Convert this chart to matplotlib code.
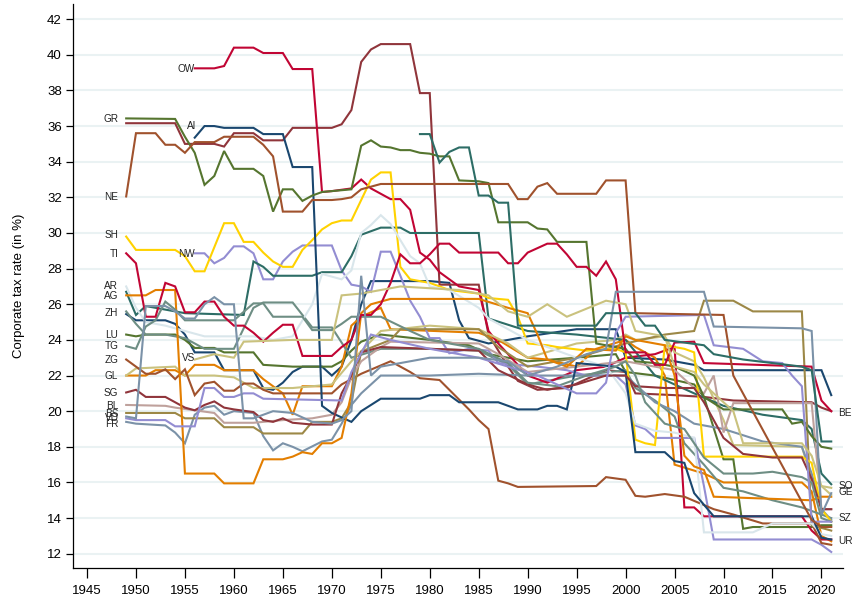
import matplotlib
matplotlib.use("Agg")
import matplotlib.pyplot as plt

plt.rcParams['font.family'] = ['Liberation Sans', 'DejaVu Sans']

# ---------------- data: (year, corporate tax rate in %) ----------------
ZH = [(1949,25.45),(1950,25.1),(1953,25.1),(1954,24.9),(1955,24.3),(1956,23.3),(1958,23.3),(1959,22.3),(1962,22.3),(1963,21.3),(1964,21.2),(1965,21.6),(1966,22.2),(1967,22.5),(1969,22.5),(1970,22.0),(1971,22.5),(1972,24.0),(1973,26.0),(1974,27.3),(1980,27.3),(1982,27.2),(1983,25.1),(1984,24.1),(1986,23.8),(1990,24.2),(1995,24.6),(1999,24.6),(2000,23.0),(2004,22.9),(2007,22.6),(2008,22.3),(2020,22.3),(2021,20.9)]
BE = [(1949,36.16),(1954,36.16),(1955,35.0),(1958,35.0),(1959,34.85),(1960,35.6),(1962,35.6),(1963,35.2),(1965,35.2),(1966,35.9),(1970,35.9),(1971,36.1),(1972,36.9),(1973,39.6),(1974,40.3),(1975,40.6),(1978,40.6),(1979,37.85),(1980,37.85),(1981,27.1),(1985,27.1),(1986,24.3),(1988,22.5),(1989,21.7),(1991,21.2),(1994,21.3),(1996,21.8),(1998,22.3),(2000,22.2),(2001,21.0),(2005,20.9),(2008,20.8),(2011,20.6),(2019,20.5),(2020,20.2),(2021,20.0)]
LU = [(1949,24.3),(1950,24.2),(1951,24.3),(1954,24.3),(1955,24.0),(1956,23.55),(1958,23.55),(1959,23.3),(1962,23.3),(1963,22.6),(1966,22.5),(1970,22.5),(1971,22.8),(1972,23.4),(1973,23.9),(1975,24.3),(1980,24.0),(1984,23.7),(1986,23.2),(1990,22.8),(1995,23.0),(1999,23.2),(2000,22.2),(2003,22.0),(2007,21.5),(2008,20.8),(2010,17.3),(2011,17.3),(2012,13.4),(2013,13.5),(2019,13.5),(2020,13.6),(2021,13.6)]
UR = [(1949,22.0),(1951,22.0),(1952,22.3),(1954,22.3),(1955,22.0),(1956,22.6),(1958,22.6),(1959,22.3),(1962,22.3),(1963,21.8),(1965,21.0),(1966,19.8),(1967,21.4),(1970,21.4),(1971,22.5),(1972,24.8),(1973,25.3),(1975,25.8),(1976,24.6),(1985,24.4),(1987,24.0),(1990,23.0),(1992,22.9),(1995,22.5),(1997,23.5),(2000,24.0),(2001,23.6),(2003,23.0),(2004,22.0),(2005,17.0),(2008,16.5),(2010,16.0),(2018,16.0),(2019,15.5),(2020,13.0),(2021,12.7)]
SZ = [(1949,25.6),(1950,24.9),(1951,24.3),(1953,24.3),(1955,24.1),(1957,23.5),(1960,23.5),(1962,25.8),(1963,26.1),(1966,26.1),(1968,24.7),(1970,24.7),(1972,23.0),(1975,23.5),(1980,23.5),(1985,23.4),(1988,22.6),(1990,21.5),(1995,22.0),(2000,22.3),(2001,21.3),(2003,20.6),(2005,19.7),(2006,18.2),(2008,17.0),(2010,15.7),(2012,15.5),(2015,15.0),(2018,14.6),(2020,14.2),(2021,14.0)]
OW = [(1956,39.24),(1958,39.24),(1959,39.37),(1960,40.4),(1962,40.4),(1963,40.1),(1965,40.1),(1966,39.2),(1968,39.2),(1969,32.3),(1970,32.35),(1972,32.5),(1973,33.0),(1974,32.5),(1976,31.9),(1977,31.9),(1978,31.3),(1979,28.9),(1980,28.5),(1981,27.8),(1983,27.0),(1985,26.8),(1986,24.5),(1987,23.8),(1990,22.0),(1992,21.6),(1995,22.3),(1998,22.5),(2000,23.0),(2003,23.2),(2005,23.6),(2006,14.6),(2007,14.6),(2008,14.1),(2018,14.1),(2019,13.3),(2020,12.8),(2021,12.8)]
NW = [(1956,28.86),(1957,28.86),(1958,28.3),(1959,28.6),(1960,29.25),(1961,29.25),(1962,28.86),(1963,27.4),(1964,27.4),(1965,28.4),(1966,28.95),(1967,29.3),(1970,29.3),(1971,27.9),(1972,27.1),(1973,27.0),(1974,26.7),(1975,28.95),(1976,28.95),(1977,27.6),(1978,26.2),(1979,25.3),(1980,24.1),(1981,24.1),(1982,23.25),(1984,23.5),(1986,23.4),(1987,22.7),(1991,22.5),(1994,22.3),(1996,22.0),(1999,22.0),(2000,21.5),(2001,19.2),(2002,19.0),(2003,18.5),(2007,18.5),(2008,15.8),(2009,12.8),(2019,12.8),(2020,12.5),(2021,12.1)]
GL = [(1949,22.0),(1950,22.4),(1954,22.5),(1955,22.0),(1958,22.0),(1960,21.9),(1962,21.3),(1966,21.3),(1970,21.5),(1972,22.8),(1975,24.5),(1980,24.8),(1985,24.6),(1988,23.8),(1990,23.0),(1995,23.8),(1999,24.0),(2000,24.3),(2001,24.0),(2004,24.2),(2005,23.3),(2007,22.8),(2008,21.9),(2010,19.5),(2011,18.1),(2018,18.0),(2019,16.2),(2020,15.8),(2021,15.7)]
ZG = [(1949,22.9),(1950,22.5),(1951,22.1),(1952,22.1),(1953,22.35),(1954,21.8),(1955,22.35),(1956,20.9),(1957,21.55),(1958,21.65),(1959,21.15),(1960,21.15),(1961,21.55),(1962,21.55),(1963,21.2),(1964,21.0),(1970,21.0),(1971,21.5),(1973,22.1),(1976,22.8),(1977,22.5),(1978,22.2),(1979,21.85),(1981,21.75),(1982,21.2),(1984,20.1),(1985,19.5),(1986,19.0),(1987,16.1),(1988,15.95),(1989,15.75),(1997,15.8),(1998,16.3),(2000,16.15),(2001,15.25),(2002,15.2),(2004,15.35),(2006,15.2),(2009,14.5),(2011,14.2),(2014,13.7),(2019,13.7),(2020,12.6),(2021,12.5)]
FR = [(1949,19.4),(1950,19.3),(1953,19.2),(1954,18.8),(1955,18.2),(1956,19.8),(1957,20.2),(1958,20.3),(1959,19.8),(1960,20.0),(1962,19.9),(1963,18.6),(1964,17.8),(1965,18.2),(1966,18.0),(1967,17.75),(1969,18.3),(1970,18.4),(1971,19.3),(1972,20.35),(1973,21.0),(1975,22.0),(1980,22.0),(1985,22.1),(1990,22.0),(1995,22.0),(2000,22.0),(2003,20.5),(2005,20.0),(2007,19.3),(2010,19.0),(2014,18.3),(2018,18.0),(2019,16.5),(2020,14.5),(2021,13.9)]
SO = [(1949,26.7),(1950,25.4),(1951,25.9),(1955,25.5),(1961,25.4),(1962,28.4),(1963,28.1),(1964,27.6),(1968,27.6),(1969,27.8),(1971,27.8),(1972,28.7),(1973,29.9),(1975,30.3),(1977,30.3),(1978,30.0),(1985,30.0),(1986,25.2),(1990,24.5),(1995,24.3),(2000,24.0),(2003,22.0),(2005,21.5),(2007,21.0),(2010,20.3),(2014,19.8),(2018,19.5),(2019,19.0),(2020,16.5),(2021,15.9)]
BS = [(1949,19.9),(1954,19.9),(1955,19.6),(1958,19.6),(1959,19.1),(1962,19.1),(1963,18.75),(1967,18.75),(1968,19.4),(1970,19.4),(1971,19.6),(1972,20.5),(1973,23.35),(1976,24.0),(1977,24.6),(1985,24.6),(1987,23.6),(1990,22.5),(1995,23.0),(2000,23.8),(2004,24.3),(2007,24.5),(2008,26.2),(2011,26.2),(2013,25.6),(2018,25.6),(2019,13.6),(2021,13.3)]
BL = [(1949,20.35),(1953,20.3),(1954,20.2),(1958,19.9),(1959,19.35),(1962,19.35),(1965,19.5),(1968,19.6),(1970,19.8),(1971,20.5),(1972,21.9),(1973,22.8),(1975,23.6),(1976,23.9),(1985,23.8),(1987,23.2),(1990,22.2),(1995,22.5),(2000,22.8),(2005,22.3),(2007,21.3),(2008,21.0),(2009,22.0),(2010,18.8),(2011,20.45),(2019,20.45),(2020,14.5),(2021,14.5)]
SH = [(1949,29.8),(1950,29.05),(1954,29.05),(1955,28.7),(1956,27.85),(1957,27.85),(1958,29.2),(1959,30.55),(1960,30.55),(1961,29.5),(1962,29.5),(1963,28.9),(1964,28.4),(1965,28.1),(1966,28.1),(1967,29.05),(1968,29.6),(1969,30.2),(1970,30.55),(1971,30.7),(1972,30.7),(1973,31.85),(1974,33.0),(1975,33.4),(1976,33.4),(1977,28.1),(1978,27.4),(1980,27.2),(1982,26.8),(1985,26.6),(1986,26.35),(1988,26.25),(1989,25.3),(1990,23.8),(1992,23.7),(1993,23.6),(1996,23.4),(1999,23.5),(2000,23.3),(2001,18.4),(2002,18.2),(2003,18.1),(2004,23.7),(2006,23.5),(2007,23.3),(2008,17.45),(2018,17.45),(2019,17.1),(2020,14.5),(2021,13.8)]
AR = [(1949,27.0),(1950,25.8),(1951,25.0),(1953,24.8),(1955,24.5),(1957,24.2),(1962,24.2),(1964,24.0),(1966,24.2),(1968,26.0),(1969,27.7),(1971,27.4),(1972,27.9),(1973,30.0),(1974,30.45),(1975,31.0),(1976,30.5),(1977,29.6),(1978,28.7),(1979,28.3),(1980,27.0),(1982,26.8),(1985,25.8),(1986,25.2),(1990,24.0),(1995,23.0),(1998,22.5),(2000,21.0),(2001,19.3),(2003,18.9),(2005,18.8),(2007,18.5),(2008,13.2),(2013,13.2),(2015,13.7),(2019,13.7),(2020,13.1),(2021,13.0)]
AI = [(1956,35.35),(1957,36.0),(1958,36.0),(1959,35.9),(1962,35.9),(1963,35.55),(1965,35.55),(1966,33.7),(1968,33.7),(1969,20.3),(1970,19.9),(1972,19.4),(1973,20.0),(1974,20.35),(1975,20.7),(1979,20.7),(1980,20.9),(1982,20.9),(1983,20.5),(1987,20.5),(1989,20.1),(1991,20.1),(1992,20.3),(1993,20.3),(1994,20.1),(1995,22.7),(1999,22.5),(2000,22.2),(2001,17.7),(2004,17.7),(2005,17.2),(2006,17.1),(2007,15.4),(2009,14.1),(2019,14.1),(2020,12.9),(2021,12.8)]
SG = [(1949,21.05),(1950,21.2),(1951,20.8),(1953,20.8),(1954,20.5),(1955,20.2),(1956,20.05),(1957,20.35),(1958,20.55),(1959,20.2),(1960,20.1),(1962,19.95),(1963,19.5),(1964,19.4),(1965,19.6),(1966,19.35),(1968,19.25),(1970,19.25),(1971,21.0),(1972,22.0),(1973,23.3),(1975,23.6),(1980,23.5),(1985,23.4),(1987,22.3),(1990,21.5),(1992,21.2),(1995,21.5),(1998,22.0),(2000,22.0),(2001,21.4),(2004,21.3),(2007,21.3),(2008,20.5),(2010,18.5),(2012,17.6),(2015,17.4),(2018,17.4),(2019,16.2),(2020,14.5),(2021,14.5)]
GR = [(1949,36.43),(1954,36.4),(1955,35.4),(1956,34.5),(1957,32.7),(1958,33.2),(1959,34.6),(1960,33.6),(1962,33.6),(1963,33.2),(1964,31.2),(1965,32.45),(1966,32.45),(1967,31.8),(1968,32.1),(1969,32.3),(1972,32.45),(1973,34.9),(1974,35.2),(1975,34.85),(1976,34.8),(1977,34.65),(1978,34.65),(1979,34.5),(1980,34.45),(1981,34.3),(1982,34.3),(1983,32.95),(1985,32.9),(1986,32.8),(1987,30.6),(1990,30.6),(1991,30.25),(1992,30.2),(1993,29.5),(1996,29.5),(1997,23.8),(2000,23.5),(2001,22.8),(2003,22.7),(2005,22.5),(2007,22.0),(2008,20.8),(2010,20.1),(2016,20.1),(2017,19.3),(2018,19.4),(2019,18.6),(2020,18.0),(2021,17.9)]
AG = [(1949,26.5),(1951,26.5),(1952,26.8),(1954,26.8),(1955,16.5),(1958,16.5),(1959,15.95),(1962,15.95),(1963,17.3),(1965,17.3),(1966,17.45),(1967,17.7),(1968,17.6),(1969,18.2),(1970,18.2),(1971,18.5),(1972,21.0),(1973,25.5),(1974,26.0),(1976,26.3),(1985,26.3),(1988,25.8),(1990,25.5),(1991,24.3),(1992,22.9),(1994,22.5),(1996,23.5),(1999,23.4),(2000,24.2),(2001,24.0),(2004,23.7),(2005,22.0),(2006,17.5),(2007,16.9),(2008,16.7),(2009,15.2),(2019,15.0),(2020,15.2),(2021,15.2)]
TG = [(1949,23.65),(1950,23.5),(1951,24.75),(1952,25.1),(1953,26.15),(1954,25.7),(1955,25.1),(1960,25.1),(1962,26.05),(1963,26.05),(1964,25.3),(1967,25.3),(1968,24.55),(1970,24.55),(1971,24.9),(1972,25.3),(1975,25.3),(1978,24.5),(1980,24.0),(1985,23.5),(1988,22.7),(1990,21.6),(1993,21.4),(1996,22.0),(1999,22.5),(2000,22.8),(2001,22.0),(2002,20.5),(2004,19.3),(2006,19.0),(2008,17.4),(2010,16.5),(2013,16.5),(2015,16.6),(2018,16.3),(2019,16.0),(2020,14.0),(2021,13.8)]
TI = [(1949,28.86),(1950,28.3),(1951,25.3),(1952,25.3),(1953,27.2),(1954,27.0),(1955,25.55),(1956,25.55),(1957,26.15),(1958,26.15),(1959,25.3),(1960,24.8),(1961,24.8),(1962,24.4),(1963,23.9),(1964,24.4),(1965,24.85),(1966,24.85),(1967,23.1),(1970,23.1),(1971,23.6),(1972,24.0),(1973,25.4),(1974,25.4),(1975,26.0),(1976,27.2),(1977,28.8),(1978,28.3),(1979,28.3),(1980,28.8),(1981,29.4),(1982,29.4),(1983,28.9),(1987,28.9),(1988,28.3),(1989,28.3),(1990,28.9),(1992,29.4),(1993,29.4),(1994,28.8),(1995,28.1),(1996,28.1),(1997,27.6),(1998,28.4),(1999,27.4),(2000,23.3),(2002,23.3),(2003,22.6),(2004,22.6),(2005,23.85),(2007,23.9),(2008,22.7),(2019,22.5),(2020,20.6),(2021,20.0)]
VD = [(1949,19.6),(1950,19.5),(1953,19.5),(1954,19.15),(1956,19.15),(1957,21.3),(1958,21.3),(1959,20.8),(1960,20.8),(1961,21.0),(1962,21.0),(1963,20.7),(1971,20.6),(1972,22.2),(1974,24.3),(1976,24.0),(1980,23.5),(1985,23.0),(1988,22.5),(1991,22.0),(1995,21.0),(1997,21.0),(1998,21.6),(1999,24.4),(2000,25.3),(2008,25.4),(2009,23.7),(2012,23.5),(2014,22.8),(2016,22.7),(2017,22.0),(2018,21.4),(2019,13.8),(2021,13.8)]
VS = [(1956,22.9),(1958,23.2),(1960,23.0),(1961,23.9),(1966,24.0),(1970,24.0),(1971,26.5),(1973,26.6),(1975,26.8),(1977,27.0),(1983,26.8),(1986,26.5),(1988,25.6),(1990,25.3),(1992,26.0),(1994,25.3),(1998,26.2),(2000,26.0),(2001,24.5),(2004,24.2),(2005,22.5),(2007,22.2),(2008,21.5),(2011,20.0),(2012,18.2),(2018,18.2),(2019,17.5),(2020,15.8),(2021,15.3)]
NE = [(1949,32.05),(1950,35.6),(1952,35.6),(1953,34.95),(1954,34.95),(1955,34.5),(1956,35.1),(1958,35.1),(1959,35.4),(1962,35.4),(1963,34.95),(1964,34.3),(1965,31.2),(1967,31.2),(1968,31.85),(1970,31.85),(1971,31.9),(1972,32.0),(1973,32.45),(1974,32.6),(1975,32.75),(1988,32.75),(1989,31.9),(1990,31.9),(1991,32.6),(1992,32.8),(1993,32.2),(1997,32.2),(1998,32.95),(2000,32.95),(2001,25.5),(2010,25.4),(2011,22.0),(2019,13.9),(2020,13.5),(2021,13.5)]
GE = [(1949,19.7),(1950,19.6),(1951,25.9),(1953,25.9),(1954,25.6),(1955,25.2),(1956,25.2),(1957,26.0),(1958,26.4),(1959,26.0),(1960,26.0),(1961,19.6),(1962,19.6),(1963,19.8),(1964,20.0),(1966,19.9),(1968,19.4),(1970,19.3),(1971,19.5),(1972,20.0),(1973,27.6),(1974,22.0),(1975,22.5),(1980,23.0),(1985,23.0),(1988,22.8),(1990,22.0),(1993,22.5),(1996,23.2),(1998,23.5),(1999,26.7),(2008,26.7),(2009,24.75),(2018,24.65),(2019,24.5),(2020,14.2),(2021,15.4)]
JU = [(1979,35.55),(1980,35.55),(1981,33.95),(1982,34.55),(1983,34.8),(1984,34.8),(1985,32.1),(1986,32.1),(1987,31.7),(1988,31.7),(1989,24.8),(1997,24.8),(1998,25.5),(2001,25.5),(2002,24.8),(2003,24.8),(2004,24.0),(2008,23.7),(2009,23.2),(2012,22.9),(2015,22.7),(2018,22.5),(2019,22.3),(2020,18.3),(2021,18.3)]

cantons = ["ZH", "BE", "LU", "UR", "SZ", "OW", "NW", "GL", "ZG", "FR", "SO", "BS", "BL",
           "SH", "AR", "AI", "SG", "GR", "AG", "TG", "TI", "VD", "VS", "NE", "GE", "JU"]
series = [ZH, BE, LU, UR, SZ, OW, NW, GL, ZG, FR, SO, BS, BL,
          SH, AR, AI, SG, GR, AG, TG, TI, VD, VS, NE, GE, JU]

palette = ["#1a476f", "#90353b", "#55752f", "#e37e00", "#6e8e84", "#c10534", "#938dd2",
           "#cac27e", "#a0522d", "#7b92a8", "#2d6d66", "#9c8847", "#bfa19c", "#ffd200", "#d9e6eb"]

# label placement (layout, not data): (x, y, ha)
label_pos = {
    "GR": (1948.2, 36.4, "right"), "NE": (1948.2, 32.0, "right"), "SH": (1948.2, 29.9, "right"),
    "TI": (1948.2, 28.8, "right"), "AR": (1948.2, 27.05, "right"), "AG": (1948.2, 26.45, "right"),
    "ZH": (1948.2, 25.5, "right"), "LU": (1948.2, 24.3, "right"), "TG": (1948.2, 23.65, "right"),
    "ZG": (1948.2, 22.9, "right"), "GL": (1948.2, 21.95, "right"), "SG": (1948.2, 21.0, "right"),
    "BL": (1948.2, 20.3, "right"), "BS": (1948.2, 19.85, "right"), "VD": (1948.2, 19.6, "right"),
    "FR": (1948.2, 19.3, "right"),
    "OW": (1956.0, 39.2, "right"), "AI": (1956.2, 36.0, "right"), "NW": (1956.0, 28.8, "right"),
    "VS": (1956.0, 23.0, "right"),
    "BE": (2021.7, 19.9, "left"), "SO": (2021.7, 15.8, "left"), "GE": (2021.7, 15.45, "left"),
    "SZ": (2021.7, 14.0, "left"), "UR": (2021.7, 12.7, "left"),
}

# ---------------- figure ----------------
W, H = 854, 599
fig = plt.figure(figsize=(W / 100, H / 100), dpi=100)
ax = fig.add_axes([73 / W, 1 - 568 / H, (843 - 73) / W, (568 - 4) / H])

for i, (name, data) in enumerate(zip(cantons, series)):
    xs = [d[0] for d in data]
    ys = [d[1] for d in data]
    ax.plot(xs, ys, color=palette[i % len(palette)], lw=1.5, solid_joinstyle="miter", zorder=3)

for name, (lx, ly, ha) in label_pos.items():
    ax.text(lx, ly, name, ha=ha, va="center", fontsize=7.2, color="#222222", zorder=4)

ax.set_xlim(1943.57, 2022.2)
ax.set_ylim(11.2, 42.85)
ax.set_yticks(range(12, 43, 2))
ax.set_xticks(range(1945, 2021, 5))
for y in range(12, 43, 2):
    ax.axhline(y, color="#eaf2f3", lw=1.5, zorder=1)

for s in ["top", "right"]:
    ax.spines[s].set_visible(False)
ax.spines["left"].set_linewidth(0.9)
ax.spines["bottom"].set_linewidth(0.9)
ax.tick_params(axis="y", direction="out", length=5, width=0.9, labelsize=9.5, pad=3)
ax.tick_params(axis="x", direction="out", length=7, width=0.9, labelsize=9.5, pad=5)
ax.set_ylabel("Corporate tax rate (in %)", fontsize=9.5, labelpad=16)

fig.savefig("out.png", dpi=100)
